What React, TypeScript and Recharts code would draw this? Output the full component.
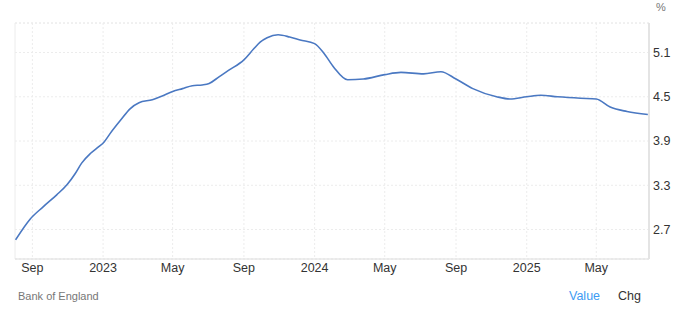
import { LineChart, Line, XAxis, YAxis, CartesianGrid, ReferenceLine } from 'recharts';

// dates of the readings
const dates = [
  '2022-08-03', '2022-08-28', '2022-09-20', '2022-10-13', '2022-10-31', '2022-11-14',
  '2022-11-25', '2022-12-10', '2022-12-24', '2023-01-02', '2023-01-13', '2023-01-31',
  '2023-02-17', '2023-03-04', '2023-03-27', '2023-04-13', '2023-05-01', '2023-05-18',
  '2023-06-04', '2023-06-21', '2023-07-03', '2023-07-20', '2023-08-06', '2023-09-01',
  '2023-09-18', '2023-09-29', '2023-10-11', '2023-10-30', '2023-11-19', '2023-12-07',
  '2024-01-01', '2024-01-17', '2024-02-03', '2024-02-27', '2024-03-25', '2024-05-01',
  '2024-05-29', '2024-07-07', '2024-08-06', '2024-09-01', '2024-09-30', '2024-11-10',
  '2024-12-03', '2025-01-01', '2025-01-25', '2025-02-23', '2025-04-04', '2025-05-01',
  '2025-05-25', '2025-06-23', '2025-07-29',
];

// rate, %
const values = [
  2.56, 2.84, 3.01, 3.17, 3.31, 3.46,
  3.60, 3.73, 3.82, 3.88, 4.00, 4.18,
  4.34, 4.42, 4.46, 4.51, 4.57, 4.61,
  4.65, 4.66, 4.68, 4.77, 4.86, 5.00,
  5.15, 5.24, 5.30, 5.34, 5.31, 5.27,
  5.22, 5.09, 4.90, 4.73, 4.74, 4.80,
  4.83, 4.81, 4.84, 4.74, 4.61, 4.50,
  4.47, 4.50, 4.52, 4.50, 4.48, 4.47,
  4.36, 4.30, 4.26,
];

const xTicks = ['2022-09-01', '2023-01-01', '2023-05-01', '2023-09-01', '2024-01-01', '2024-05-01', '2024-09-01', '2025-01-01', '2025-05-01'];
const yTicks = [2.7, 3.3, 3.9, 4.5, 5.1];

const xMin = Date.parse('2022-08-02');
const xMax = Date.parse('2025-07-31');
const yMin = 2.3;
const yMax = 5.5;

const chartData = dates.map((d, i) => ({ t: Date.parse(d), v: values[i] }));

const MONTHS = ['Jan', 'Feb', 'Mar', 'Apr', 'May', 'Jun', 'Jul', 'Aug', 'Sep', 'Oct', 'Nov', 'Dec'];
const fmtX = (t: number) => {
  const d = new Date(t);
  return d.getUTCMonth() === 0 ? String(d.getUTCFullYear()) : MONTHS[d.getUTCMonth()];
};

const font = '"Liberation Sans", Arial, sans-serif';

export default function App() {
  return (
    <div style={{ position: 'fixed', left: 0, top: 0, width: 673, height: 317, background: '#fff', fontFamily: font }}>
      <div style={{ position: 'absolute', left: 656, top: 1, fontSize: 11, color: '#777' }}>%</div>
      <LineChart width={673} height={282} data={chartData} margin={{ top: 23, right: 0, left: 15, bottom: 0 }}>
        <CartesianGrid stroke="#ececec" strokeDasharray="2 2" />
        <ReferenceLine y={yMax} stroke="#ececec" strokeDasharray="2 2" />
        <ReferenceLine x={xMin} stroke="#ececec" strokeDasharray="2 2" />
        <XAxis
          dataKey="t"
          type="number"
          scale="time"
          domain={[xMin, xMax]}
          ticks={xTicks.map((d) => Date.parse(d))}
          tickFormatter={fmtX}
          height={23}
          tickSize={0}
          tickMargin={4}
          axisLine={{ stroke: '#dddddd' }}
          tick={{ fill: '#333', fontSize: 12.5, fontFamily: font }}
          allowDataOverflow
        />
        <YAxis
          orientation="right"
          type="number"
          domain={[yMin, yMax]}
          ticks={yTicks}
          tickFormatter={(v: number) => v.toFixed(1)}
          width={24}
          tickSize={0}
          tickMargin={4}
          axisLine={{ stroke: '#e4e4e4', strokeWidth: 2 }}
          tick={{ fill: '#333', fontSize: 12.5, fontFamily: font, textAnchor: 'start' }}
          allowDataOverflow
        />
        <Line type="monotone" dataKey="v" stroke="#4a78c2" strokeWidth={1.6} dot={false} isAnimationActive={false} />
      </LineChart>
      <div style={{ position: 'absolute', left: 18, top: 290, fontSize: 11, color: '#777' }}>Bank of England</div>
      <div style={{ position: 'absolute', left: 569, top: 289, fontSize: 12.5, color: '#3d9bf3' }}>Value</div>
      <div style={{ position: 'absolute', left: 618, top: 289, fontSize: 12.5, color: '#333' }}>Chg</div>
    </div>
  );
}
